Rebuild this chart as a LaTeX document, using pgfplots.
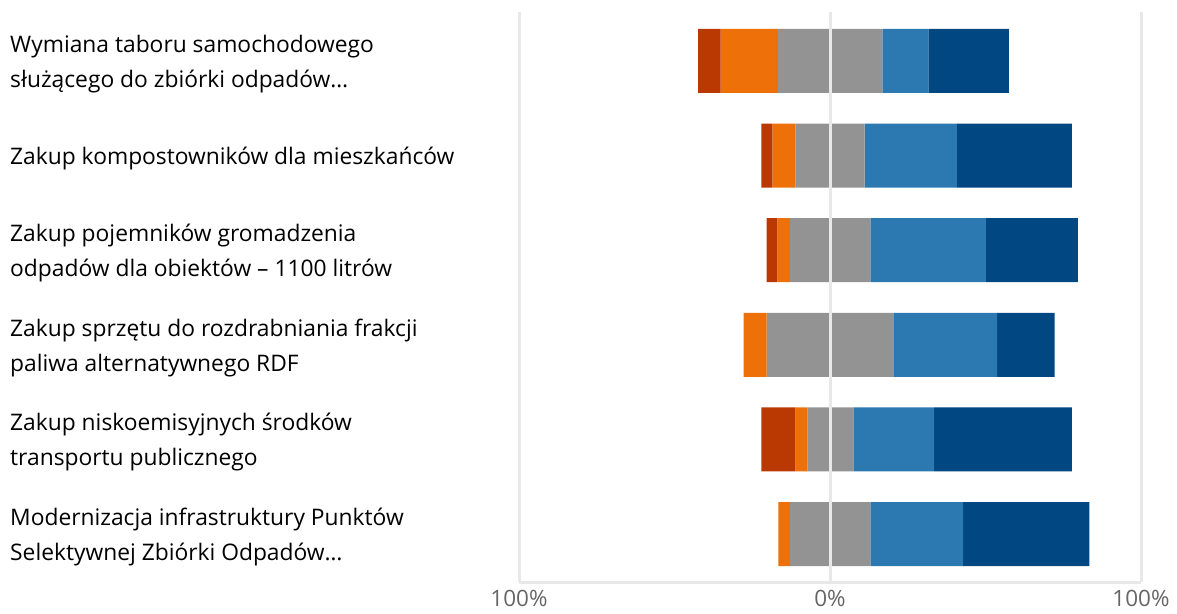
\documentclass[border=0pt]{standalone}
\usepackage{pgfplots}
\usepackage{pgfplotstable}
\usepackage{fontspec}
\setmainfont{Open Sans}
\pgfplotsset{compat=1.18}

\definecolor{cred}{RGB}{186,57,2}
\definecolor{corange}{RGB}{237,113,8}
\definecolor{cgray}{RGB}{147,147,147}
\definecolor{clblue}{RGB}{44,120,176}
\definecolor{cdblue}{RGB}{1,71,129}
\definecolor{gridc}{RGB}{232,232,232}
\definecolor{tickc}{RGB}{102,102,102}

% x axis runs 0..200 with 100 as the centre (0%);
% off = left end of each bar (invisible spacer), then the five answer shares
\pgfplotstableread{
y off red orange gray lb db
0 57.6 7.2 18.4 33.6 14.8 25.9
1 77.9 3.6 7.4 22.2 29.7 37.0
2 79.6 3.5 4.0 25.9 37.1 29.6
3 72.2 0 7.4 40.9 33.2 18.5
4 77.9 11.0 3.8 14.8 26.0 44.3
5 83.4 0 3.7 25.9 29.8 40.6
}\data

\begin{document}
\begin{tikzpicture}
\useasboundingbox (0,0) rectangle (1177pt,613pt);
\begin{axis}[
    at={(519pt,31pt)}, anchor=south west,
    scale only axis,
    width=622pt, height=570pt,
    xbar stacked,
    bar width=0.676,
    y dir=reverse,
    xmin=0, xmax=200,
    ymin=-0.517, ymax=5.507,
    xtick={0,100,200},
    xticklabels={100\%,0\%,100\%},
    ytick={0,1,2,3,4,5},
    yticklabels={
        {Wymiana taboru samochodowego\\służącego do zbiórki odpadów…},
        {Zakup kompostowników dla mieszkańców},
        {Zakup pojemników gromadzenia\\odpadów dla obiektów – 1100 litrów},
        {Zakup sprzętu do rozdrabniania frakcji\\paliwa alternatywnego RDF},
        {Zakup niskoemisyjnych środków\\transportu publicznego},
        {Modernizacja infrastruktury Punktów\\Selektywnej Zbiórki Odpadów…}},
    major tick length=0pt,
    xmajorgrids,
    grid style={gridc, line width=3pt},
    axis on top,
    axis x line*=bottom,
    axis y line*=left,
    x axis line style={gridc, line width=3pt, -},
    y axis line style={draw=none},
    xticklabel style={font=\fontsize{22.5}{26}\selectfont, text=tickc, anchor=north, inner sep=0pt, yshift=-8pt},
    yticklabel style={font=\fontsize{22.8}{35}\selectfont, anchor=west, align=left, inner sep=0pt, xshift=-509pt, yshift=-3pt},
    every axis plot/.append style={draw=none},
]
\addplot[fill=none] table[x=off, y=y] \data;
\addplot[fill=cred] table[x=red, y=y] \data;
\addplot[fill=corange] table[x=orange, y=y] \data;
\addplot[fill=cgray] table[x=gray, y=y] \data;
\addplot[fill=clblue] table[x=lb, y=y] \data;
\addplot[fill=cdblue] table[x=db, y=y] \data;
\end{axis}
\end{tikzpicture}
\end{document}
